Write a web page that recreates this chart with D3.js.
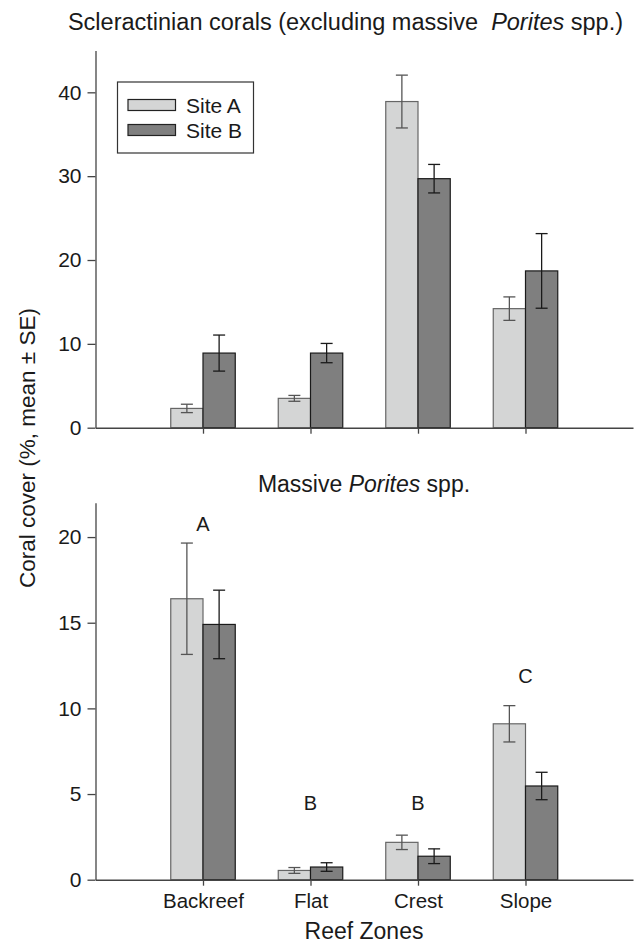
<!DOCTYPE html>
<html>
<head>
<meta charset="utf-8">
<script src="https://cdn.jsdelivr.net/npm/d3@7"></script>
<style>
  body { margin: 0; background: #fff; }
  svg text { font-family: "Liberation Sans", Arial, sans-serif; fill: #1a1a1a; }
</style>
</head>
<body>
<div id="chart"></div>
<script>
// categories on the x axis (slot 0 is left empty, like the original)
const zones = ["Backreef", "Flat", "Crest", "Slope"];
const sites = ["Site A", "Site B"];

// top panel: scleractinian corals (excluding massive Porites)
const sclerA = [2.3, 3.5, 38.9, 14.2];
const sclerA_se = [0.5, 0.35, 3.15, 1.4];
const sclerB = [8.9, 8.9, 29.7, 18.7];
const sclerB_se = [2.15, 1.15, 1.7, 4.45];

// bottom panel: massive Porites
const poritesA = [16.4, 0.54, 2.18, 9.1];
const poritesA_se = [3.25, 0.17, 0.42, 1.06];
const poritesB = [14.9, 0.74, 1.37, 5.47];
const poritesB_se = [2.0, 0.25, 0.43, 0.8];

// significance letters and the height (in % cover) they sit at
const letters = ["A", "B", "B", "C"];
const letterAt = [20.8, 4.5, 4.5, 11.9];

const topTicks = [0, 10, 20, 30, 40];
const bottomTicks = [0, 5, 10, 15, 20];

const colA = "#d4d5d5", colB = "#7f7f7f";
const FONT = "'Liberation Sans', Arial, sans-serif";

const W = 638, H = 943;
const svg = d3.select("#chart").append("svg")
  .attr("width", W).attr("height", H);

const x = d3.scaleLinear().domain([0, zones.length + 1]).range([95.5, 633]);
const barW = (x(1) - x(0)) * 0.3;

function panel(yDomain, yRange, ticks, valsA, seA, valsB, seB) {
  const y = d3.scaleLinear().domain(yDomain).range(yRange);
  const g = svg.append("g");

  const bars = [];
  zones.forEach((z, i) => {
    bars.push({ i: i, v: valsA[i], se: seA[i], dx: -barW, fill: colA, stroke: "#666", err: "#555" });
    bars.push({ i: i, v: valsB[i], se: seB[i], dx: 0, fill: colB, stroke: "#1a1a1a", err: "#1a1a1a" });
  });

  g.selectAll("rect.bar")
    .data(bars)
    .join("rect")
    .attr("class", "bar")
    .attr("x", (d) => x(d.i + 1) + d.dx)
    .attr("width", barW)
    .attr("y", (d) => y(d.v))
    .attr("height", (d) => y(0) - y(d.v))
    .attr("fill", (d) => d.fill)
    .attr("stroke", (d) => d.stroke)
    .attr("stroke-width", 1.2);

  // error bars
  const eb = g.selectAll("g.err").data(bars).join("g")
    .attr("class", "err")
    .attr("stroke", (d) => d.err)
    .attr("stroke-width", 1.3);
  const cx = (d) => x(d.i + 1) + d.dx + barW / 2;
  eb.append("line")
    .attr("x1", cx).attr("x2", cx)
    .attr("y1", (d) => y(d.v + d.se)).attr("y2", (d) => y(d.v - d.se));
  eb.append("line")
    .attr("x1", (d) => cx(d) - 6).attr("x2", (d) => cx(d) + 6)
    .attr("y1", (d) => y(d.v + d.se)).attr("y2", (d) => y(d.v + d.se));
  eb.append("line")
    .attr("x1", (d) => cx(d) - 6).attr("x2", (d) => cx(d) + 6)
    .attr("y1", (d) => y(d.v - d.se)).attr("y2", (d) => y(d.v - d.se));

  // y axis
  const ya = g.append("g")
    .attr("transform", `translate(${x(0)},0)`)
    .call(d3.axisLeft(y).tickValues(ticks).tickSize(8).tickPadding(6).tickSizeOuter(0));
  ya.select(".domain").attr("stroke", "#444").attr("stroke-width", 1.3);
  ya.selectAll(".tick line").attr("stroke", "#444").attr("stroke-width", 1.3);
  ya.selectAll("text").style("font-size", "21px")
    .style("font-family", FONT).attr("fill", "#1a1a1a");

  // x axis
  const xa = g.append("g")
    .attr("transform", `translate(0,${y(0)})`)
    .call(d3.axisBottom(x).tickValues(d3.range(1, zones.length + 1)).tickSize(6).tickSizeOuter(0)
      .tickFormat(() => ""));
  xa.select(".domain").attr("stroke", "#444").attr("stroke-width", 1.5);
  xa.selectAll(".tick line").attr("stroke", "#444").attr("stroke-width", 1.3);

  return { g: g, y: y, xa: xa };
}

const upper = panel([0, 45], [427.7, 50.4], topTicks, sclerA, sclerA_se, sclerB, sclerB_se);
const lower = panel([0, 22], [879.7, 502.8], bottomTicks, poritesA, poritesA_se, poritesB, poritesB_se);

// category labels under the bottom axis
lower.xa.selectAll(".tick text")
  .text((d, i) => zones[i])
  .style("font-size", "20.5px")
  .style("font-family", FONT)
  .attr("fill", "#1a1a1a")
  .attr("y", 28)
  .attr("dy", null);

// significance letters
lower.g.selectAll("text.letter")
  .data(letters)
  .join("text")
  .attr("class", "letter")
  .attr("x", (d, i) => x(i + 1))
  .attr("y", (d, i) => lower.y(letterAt[i]))
  .attr("dy", "0.36em")
  .attr("text-anchor", "middle")
  .style("font-size", "20px")
  .text((d) => d);

// titles
const t1 = svg.append("text")
  .attr("x", 345.5).attr("y", 30)
  .attr("text-anchor", "middle")
  .style("font-size", "23.5px");
t1.append("tspan").text("Scleractinian corals (excluding massive\u00a0\u00a0");
t1.append("tspan").style("font-style", "italic").text("Porites");
t1.append("tspan").text(" spp.)");

const t2 = svg.append("text")
  .attr("x", 364).attr("y", 492)
  .attr("text-anchor", "middle")
  .style("font-size", "23px");
t2.append("tspan").text("Massive ");
t2.append("tspan").style("font-style", "italic").text("Porites");
t2.append("tspan").text(" spp.");

// axis titles
svg.append("text")
  .attr("transform", "translate(35,448) rotate(-90)")
  .attr("text-anchor", "middle")
  .style("font-size", "22.5px")
  .text("Coral cover (%, mean \u00b1 SE)");

svg.append("text")
  .attr("x", 364).attr("y", 939)
  .attr("text-anchor", "middle")
  .style("font-size", "23px")
  .text("Reef Zones");

// legend
const lg = svg.append("g").attr("transform", "translate(117.5,82)");
lg.append("rect")
  .attr("width", 136).attr("height", 71)
  .attr("fill", "#fff").attr("stroke", "#333").attr("stroke-width", 1.2);
const li = lg.selectAll("g.item").data(sites).join("g")
  .attr("class", "item")
  .attr("transform", (d, i) => `translate(10.5,${17.5 + i * 25})`);
li.append("rect")
  .attr("width", 47.5).attr("height", 11)
  .attr("fill", (d, i) => (i === 0 ? colA : colB))
  .attr("stroke", "#222").attr("stroke-width", 1.2);
li.append("text")
  .attr("x", 58).attr("y", 13)
  .style("font-size", "21px")
  .text((d) => d);
</script>
</body>
</html>
